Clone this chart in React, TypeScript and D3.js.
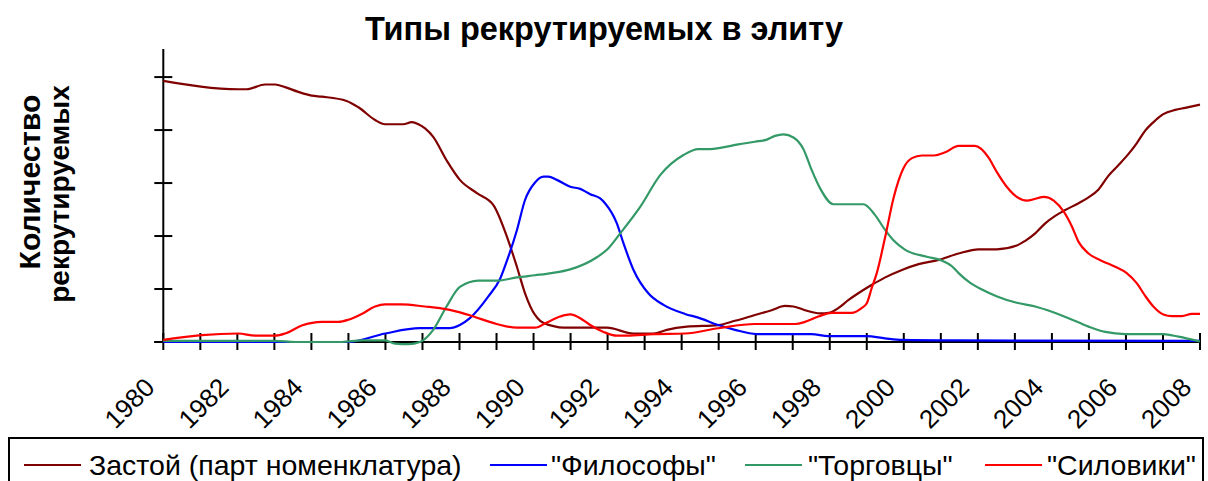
import React from "react";
import * as d3 from "d3";

const title = "Типы рекрутируемых в элиту";
const yLabelLines = ["Количество", "рекрутируемых"];
const seriesNames = ["Застой (парт номенклатура)", "\"Философы\"", "\"Торговцы\"", "\"Силовики\""];
const seriesColors = ["#800000", "#0000FF", "#339966", "#FF0000"];
const tickYears = [1980,1981,1982,1983,1984,1985,1986,1987,1988,1989,1990,1991,1992,1993,1994,1995,1996,1997,1998,1999,2000,2001,2002,2003,2004,2005,2006,2007,2008];
const labelYears = [1980,1982,1984,1986,1988,1990,1992,1994,1996,1998,2000,2002,2004,2006,2008];
const yTicks = [0, 1, 2, 3, 4, 5];

const zastoy: [number, number][] = [
  [1980.0,4.93],[1982.03,4.77],[1982.25,4.77],[1982.75,4.86],[1983.02,4.86],[1983.29,4.81],[1983.65,4.72],[1984.01,4.65],[1984.28,4.63],[1984.95,4.55],[1985.27,4.43],[1985.72,4.19],[1985.99,4.11],[1986.48,4.11],[1986.71,4.15],[1986.89,4.11],[1987.07,4.03],[1987.29,3.87],[1987.65,3.43],[1988.01,3.06],[1988.47,2.81],[1988.92,2.58],[1989.28,1.99],[1989.55,1.42],[1989.77,0.92],[1990.04,0.51],[1990.18,0.40],[1990.54,0.30],[1990.81,0.27],[1991.98,0.27],[1992.70,0.16],[1993.24,0.16],[1993.60,0.23],[1994.14,0.29],[1994.99,0.32],[1995.44,0.40],[1995.98,0.51],[1996.43,0.60],[1996.79,0.68],[1997.02,0.67],[1997.33,0.60],[1997.74,0.54],[1997.97,0.55],[1998.23,0.64],[1998.5,0.79],[1998.77,0.92],[1999.14,1.08],[1999.50,1.22],[1999.95,1.36],[2000.40,1.47],[2000.94,1.55],[2001.48,1.67],[2002.02,1.75],[2002.51,1.75],[2003.05,1.82],[2003.28,1.91],[2003.55,2.05],[2003.82,2.24],[2004.09,2.38],[2004.36,2.49],[2004.72,2.62],[2004.99,2.73],[2005.26,2.88],[2005.53,3.14],[2005.80,3.34],[2006.07,3.55],[2006.29,3.75],[2006.52,3.99],[2006.79,4.18],[2007.01,4.30],[2007.33,4.38],[2007.60,4.42],[2008.0,4.48]
];

const filosofy: [number, number][] = [
  [1980,0],[1985.0,0],[1985.99,0.16],[1986.93,0.26],[1987.74,0.26],[1988.01,0.32],[1988.28,0.45],[1988.78,0.86],[1989.10,1.20],[1989.32,1.61],[1989.55,2.11],[1989.77,2.68],[1990.04,3.01],[1990.27,3.12],[1990.40,3.12],[1990.63,3.06],[1990.99,2.93],[1991.26,2.89],[1991.53,2.79],[1991.80,2.71],[1991.93,2.62],[1992.25,2.24],[1992.43,1.86],[1992.70,1.36],[1993.10,0.92],[1993.51,0.70],[1994.09,0.53],[1994.45,0.46],[1994.99,0.32],[1995.44,0.23],[1996.02,0.15],[1997.51,0.15],[1997.96,0.11],[1999.0,0.11],[1999.49,0.07],[1999.95,0.04],[2001.4,0.03],[2008,0.02]
];

const torgovtsy: [number, number][] = [
  [1980,0.02],[1983.02,0.02],[1983.56,0],[1984.82,0],[1985.36,0.03],[1985.99,0.03],[1986.26,-0.03],[1986.62,-0.04],[1986.93,0.0],[1987.29,0.23],[1987.65,0.67],[1988.01,1.04],[1988.51,1.16],[1989.05,1.16],[1989.55,1.22],[1990.04,1.26],[1990.49,1.30],[1990.99,1.37],[1991.71,1.60],[1991.98,1.74],[1992.34,2.05],[1992.88,2.55],[1993.42,3.15],[1994.05,3.53],[1994.45,3.64],[1994.77,3.64],[1995.08,3.67],[1995.53,3.73],[1995.98,3.78],[1996.30,3.82],[1996.52,3.89],[1996.75,3.92],[1997.02,3.86],[1997.29,3.64],[1997.51,3.25],[1997.74,2.90],[1998.10,2.60],[1998.91,2.60],[1999.22,2.40],[1999.50,2.11],[1999.72,1.92],[2000.04,1.74],[2000.62,1.61],[2000.98,1.55],[2001.30,1.43],[2001.48,1.30],[2001.75,1.14],[2002.11,0.99],[2002.52,0.86],[2003.05,0.74],[2003.55,0.67],[2004.0,0.57],[2004.45,0.45],[2004.99,0.29],[2005.44,0.19],[2005.98,0.15],[2007.01,0.15],[2007.42,0.10],[2008,0.01]
];

const siloviki: [number, number][] = [
  [1980,0.04],[1981.04,0.13],[1982.03,0.16],[1982.48,0.12],[1983.02,0.12],[1983.29,0.16],[1983.74,0.31],[1984.28,0.38],[1984.73,0.38],[1985.0,0.42],[1985.36,0.53],[1985.72,0.67],[1985.99,0.71],[1986.44,0.71],[1987.07,0.67],[1987.47,0.64],[1988.01,0.56],[1988.38,0.48],[1989.0,0.34],[1989.55,0.27],[1990.04,0.27],[1990.36,0.37],[1990.72,0.48],[1990.99,0.52],[1991.26,0.45],[1991.53,0.32],[1991.89,0.19],[1992.25,0.12],[1992.52,0.12],[1993.24,0.15],[1994.09,0.16],[1994.99,0.26],[1995.98,0.34],[1997.07,0.34],[1997.33,0.38],[1997.69,0.48],[1998.05,0.55],[1998.59,0.55],[1998.86,0.64],[1999.0,0.73],[1999.13,1.01],[1999.27,1.30],[1999.50,1.99],[1999.72,2.71],[1999.99,3.28],[2000.22,3.47],[2000.49,3.52],[2000.81,3.52],[2001.12,3.58],[2001.48,3.70],[2001.92,3.70],[2002.29,3.48],[2002.51,3.21],[2002.78,2.93],[2003.05,2.74],[2003.33,2.67],[2003.78,2.74],[2004.05,2.67],[2004.32,2.46],[2004.54,2.18],[2004.72,1.89],[2004.99,1.67],[2005.35,1.53],[2005.71,1.42],[2006.02,1.30],[2006.29,1.11],[2006.52,0.87],[2006.74,0.67],[2007.01,0.52],[2007.24,0.49],[2007.51,0.49],[2007.78,0.53],[2008,0.53]
];

const seriesData = [zastoy, filosofy, torgovtsy, siloviki];

const W = 1208;
const H = 481;
const FONT = "'Liberation Sans', Arial, Helvetica, sans-serif";

export default function App() {
  const x = d3.scaleLinear().domain([1980, 2008]).range([163.3, 1200]);
  const y = d3.scaleLinear().domain([0, 5.53]).range([342, 49]);
  const line = d3
    .line<[number, number]>()
    .x((d) => x(d[0]))
    .y((d) => y(d[1]))
    .curve(d3.curveMonotoneX);

  const legendSampleX = [24, 490, 745, 985];
  const legendTextX = [89, 551, 808, 1047];
  const legendY = 465;

  return (
    <svg
      width={W}
      height={H}
      style={{ position: "absolute", left: 0, top: 0, background: "#fff" }}
      fontFamily={FONT}
    >
      <rect x={0} y={0} width={W} height={H} fill="#fff" />
      <text x={604} y={40} textAnchor="middle" fontSize={32.5} fontWeight="bold" fill="#000">
        {title}
      </text>
      <text transform={`translate(40,182) rotate(-90)`} textAnchor="middle" fontSize={30} fontWeight="bold" fill="#000">
        {yLabelLines[0]}
      </text>
      <text transform={`translate(69,194) rotate(-90)`} textAnchor="middle" fontSize={28} fontWeight="bold" fill="#000">
        {yLabelLines[1]}
      </text>

      {/* axes */}
      <line x1={x(1980)} x2={x(1980)} y1={y(5.53)} y2={y(0)} stroke="#000" strokeWidth={2} />
      {yTicks.map((t) => (
        <line key={"yt" + t} x1={x(1980) - 9} x2={x(1980) + 9} y1={y(t)} y2={y(t)} stroke="#000" strokeWidth={2} />
      ))}
      <line x1={x(1980) - 9} x2={x(2008)} y1={y(0)} y2={y(0)} stroke="#000" strokeWidth={2} />
      {tickYears.map((t) => (
        <line key={"xt" + t} x1={x(t)} x2={x(t)} y1={y(0) - 9} y2={y(0) + 8} stroke="#000" strokeWidth={2} />
      ))}
      {labelYears.map((t) => (
        <text
          key={"xl" + t}
          transform={`translate(${x(t) - 7},389) rotate(-45)`}
          textAnchor="end"
          fontSize={26}
          fill="#000"
        >
          {t}
        </text>
      ))}

      {/* series */}
      {seriesData.map((s, i) => (
        <path key={"s" + i} d={line(s) || ""} fill="none" stroke={seriesColors[i]} strokeWidth={2.2} strokeLinejoin="round" />
      ))}

      {/* legend */}
      <path d={`M9,${H + 5} V438 H1203 V${H + 5}`} fill="none" stroke="#000" strokeWidth={2} />
      {seriesNames.map((n, i) => (
        <g key={"lg" + i}>
          <line x1={legendSampleX[i]} x2={legendSampleX[i] + 57} y1={legendY} y2={legendY} stroke={seriesColors[i]} strokeWidth={2} />
          <text x={legendTextX[i]} y={legendY + 10} fontSize={28.5} fill="#000">
            {n}
          </text>
        </g>
      ))}
    </svg>
  );
}
